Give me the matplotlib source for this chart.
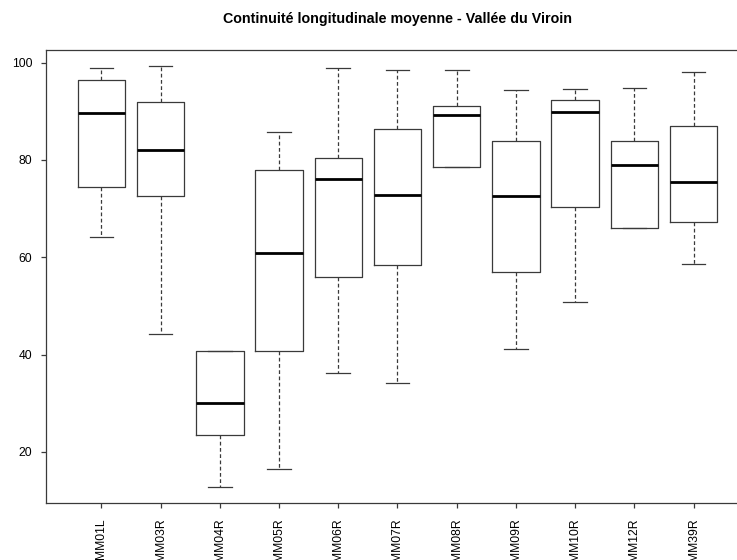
import matplotlib
matplotlib.use("Agg")
import matplotlib.pyplot as plt

plt.rcParams['font.family'] = ['Liberation Sans', 'DejaVu Sans']

stations = ["MM01L", "MM03R", "MM04R", "MM05R", "MM06R", "MM07R",
            "MM08R", "MM09R", "MM10R", "MM12R", "MM39R"]
whisker_low = [64.2, 44.3, 12.9, 16.5, 36.2, 34.1, 78.5, 41.1, 50.8, 66.0, 58.7]
q1 =          [74.5, 72.7, 23.5, 40.7, 56.0, 58.4, 78.5, 57.0, 70.3, 66.0, 67.2]
median =      [89.7, 82.1, 30.1, 60.8, 76.0, 72.9, 89.2, 72.7, 89.9, 78.9, 75.4]
q3 =          [96.4, 91.9, 40.8, 78.0, 80.4, 86.4, 91.0, 83.8, 92.4, 83.8, 86.9]
whisker_high = [98.8, 99.3, 40.8, 85.8, 98.9, 98.5, 98.5, 94.3, 94.6, 94.8, 98.0]
yticks = [20, 40, 60, 80, 100]
title = "Continuité longitudinale moyenne - Vallée du Viroin"

W, H = 737, 560
fig = plt.figure(figsize=(W / 100, H / 100), dpi=100)
left, right, top, bottom = 45.7, 749.3, 50, 503
ax = fig.add_axes([left / W, 1 - bottom / H, (right - left) / W, (bottom - top) / H])

stats = []
for i, name in enumerate(stations):
    stats.append(dict(label=name, whislo=whisker_low[i], q1=q1[i], med=median[i],
                      q3=q3[i], whishi=whisker_high[i], fliers=[]))

edge = '#3a3a3a'
positions = list(range(1, len(stations) + 1))
ax.bxp(stats, positions=positions, widths=0.8, showfliers=False,
       boxprops=dict(color=edge, linewidth=0.9),
       whiskerprops=dict(color=edge, linewidth=0.9, linestyle=(0, (3, 2))),
       capprops=dict(color=edge, linewidth=0.9),
       medianprops=dict(color='black', linewidth=2.0),
       capwidths=0.4)

ax.set_xlim(0.06, 11.94)
ax.set_ylim(9.51, 102.6)
ax.set_yticks(yticks)
ax.set_yticklabels([str(v) for v in yticks])
ax.set_xticks(positions)
ax.set_xticklabels(stations, rotation=90, va='top', ha='center')
ax.tick_params(axis='both', length=3.6, width=0.9, color=edge, labelsize=8.7, pad=7.5)
ax.tick_params(axis='y', pad=6)
for s in ax.spines.values():
    s.set_color(edge)
    s.set_linewidth(0.9)

fig.text(397.6 / W, 1 - 19.5 / H, title, ha='center', va='center',
         fontsize=10.3, fontweight='bold')

fig.savefig("out.png", dpi=100)
